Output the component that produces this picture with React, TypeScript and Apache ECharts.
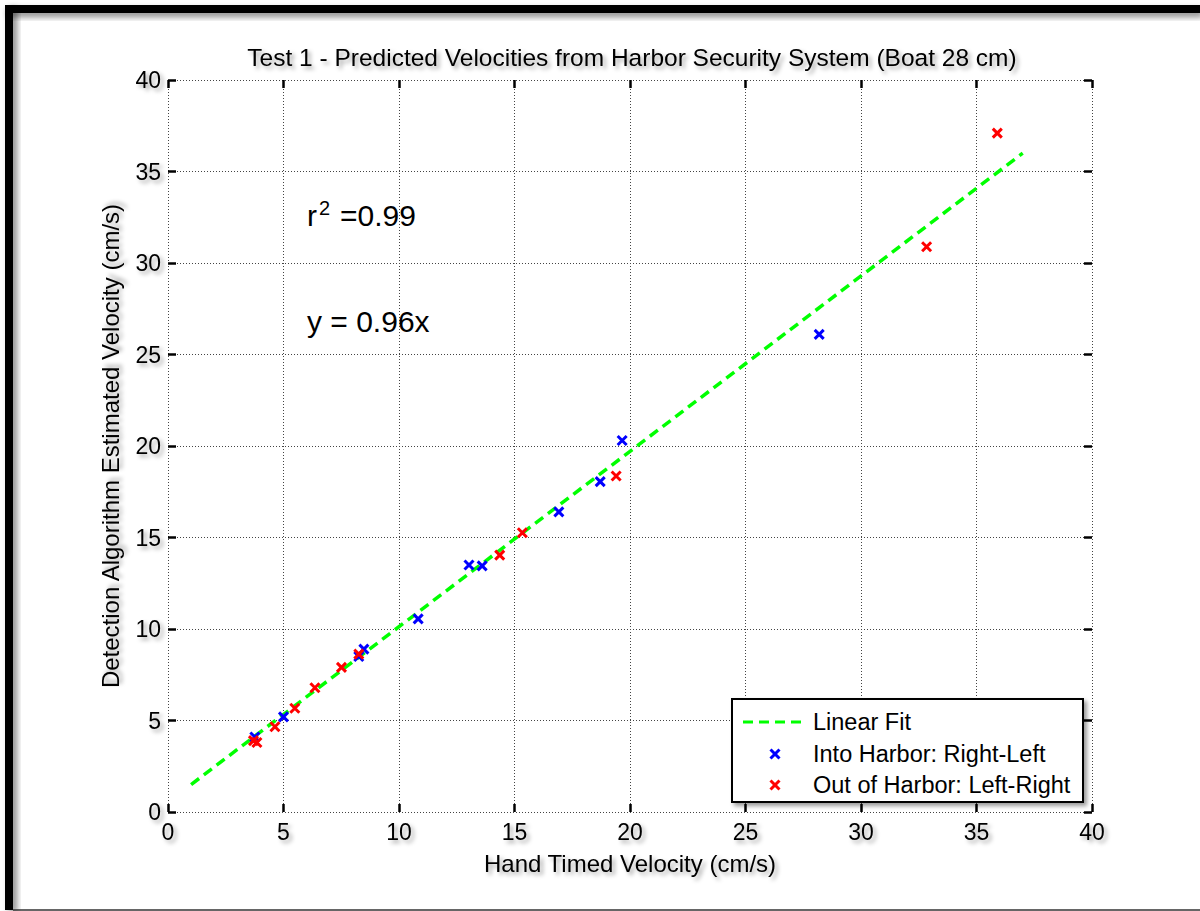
import React, { useEffect, useRef } from "react";
import * as echarts from "echarts";

const FONT = '"Liberation Sans", Arial, sans-serif';

const titleText = "Test 1 - Predicted Velocities from Harbor Security System (Boat 28 cm)";
const xAxisName = "Hand Timed Velocity (cm/s)";
const yAxisName = "Detection Algorithm Estimated Velocity (cm/s)";
const legendNames = ["Linear Fit", "Into Harbor: Right-Left", "Out of Harbor: Left-Right"];

const intoHarbor: number[][] = [
  [3.76, 4.1], [5.0, 5.2], [8.26, 8.5], [8.48, 8.9], [10.83, 10.55], [13.03, 13.5],
  [13.6, 13.45], [16.92, 16.4], [18.71, 18.05], [19.66, 20.3], [28.19, 26.1],
];
const outOfHarbor: number[][] = [
  [3.7, 3.9], [3.85, 3.8], [4.63, 4.66], [5.49, 5.67], [6.36, 6.79], [7.51, 7.9],
  [8.26, 8.63], [14.36, 14.04], [15.34, 15.26], [19.4, 18.36], [32.84, 30.89], [35.9, 37.1],
];
const fitLine: number[][] = [[1, 1.5], [37, 36]];

const axisMin = 0;
const axisMax = 40;
const axisStep = 5;

const GREEN = "#00ff00";
const BLUE = "#0000ff";
const RED = "#ff0000";
const XMARK = "path://M0,0L10,10M0,10L10,0";

const shadowText = {
  textShadowColor: "rgba(0,0,0,0.35)",
  textShadowBlur: 4,
  textShadowOffsetX: 3,
  textShadowOffsetY: 3,
};

function xMarker(cx: number, cy: number, color: string, z: number) {
  const h = 4.5;
  return [
    { type: "line", z, shape: { x1: cx - h, y1: cy - h, x2: cx + h, y2: cy + h }, style: { stroke: color, lineWidth: 3 } },
    { type: "line", z, shape: { x1: cx - h, y1: cy + h, x2: cx + h, y2: cy - h }, style: { stroke: color, lineWidth: 3 } },
  ];
}

export default function App() {
  const ref = useRef<HTMLDivElement>(null);
  useEffect(() => {
    if (!ref.current) return;
    const chart = echarts.init(ref.current, null, { renderer: "svg" });
    const axisLineStyle = {
      color: "#000",
      width: 3,
      shadowColor: "rgba(0,0,0,0.35)",
      shadowBlur: 4,
      shadowOffsetX: 3,
      shadowOffsetY: 3,
    };
    const labelStyle = { color: "#000", fontSize: 23, fontFamily: FONT, ...shadowText };
    const splitLine = { show: true, lineStyle: { color: "#444", width: 1, type: [1, 2] as any } };
    const tick = { show: true, inside: true, length: 8, lineStyle: { color: "#000", width: 2.5 } };
    const option: any = {
      animation: false,
      backgroundColor: "#fff",
      title: {
        text: titleText,
        left: 627,
        top: 40,
        textAlign: "center",
        textStyle: { color: "#000", fontSize: 24.5, fontWeight: "normal", fontFamily: FONT, ...shadowText },
      },
      grid: { left: 168, top: 80, width: 924, height: 732 },
      xAxis: [
        {
          type: "value",
          min: axisMin,
          max: axisMax,
          interval: axisStep,
          position: "bottom",
          name: xAxisName,
          nameLocation: "middle",
          nameGap: 39,
          nameTextStyle: { color: "#000", fontSize: 24, fontFamily: FONT, ...shadowText },
          axisLine: { show: true, onZero: false, lineStyle: axisLineStyle },
          axisTick: tick,
          axisLabel: { ...labelStyle, margin: 8 },
          splitLine,
        },
        {
          type: "value",
          min: axisMin,
          max: axisMax,
          interval: axisStep,
          position: "top",
          axisLine: { show: true, onZero: false, lineStyle: axisLineStyle },
          axisTick: tick,
          axisLabel: { show: false },
          splitLine: { show: false },
        },
      ],
      yAxis: [
        {
          type: "value",
          min: axisMin,
          max: axisMax,
          interval: axisStep,
          position: "left",
          name: yAxisName,
          nameLocation: "middle",
          nameGap: 46,
          nameRotate: 90,
          nameTextStyle: { color: "#000", fontSize: 24, fontFamily: FONT, ...shadowText },
          axisLine: { show: true, onZero: false, lineStyle: axisLineStyle },
          axisTick: tick,
          axisLabel: { ...labelStyle, margin: 7 },
          splitLine,
        },
        {
          type: "value",
          min: axisMin,
          max: axisMax,
          interval: axisStep,
          position: "right",
          axisLine: { show: true, onZero: false, lineStyle: axisLineStyle },
          axisTick: tick,
          axisLabel: { show: false },
          splitLine: { show: false },
        },
      ],
      series: [
        {
          name: legendNames[0],
          type: "line",
          data: fitLine,
          symbol: "none",
          lineStyle: { color: GREEN, width: 3.5, type: [10, 6] },
          z: 2,
        },
        {
          name: legendNames[1],
          type: "scatter",
          data: intoHarbor,
          symbol: XMARK,
          symbolSize: 9,
          itemStyle: { color: BLUE, borderColor: BLUE, borderWidth: 3, opacity: 1 },
          z: 3,
        },
        {
          name: legendNames[2],
          type: "scatter",
          data: outOfHarbor,
          symbol: XMARK,
          symbolSize: 9,
          itemStyle: { color: RED, borderColor: RED, borderWidth: 3, opacity: 1 },
          z: 4,
        },
      ],
      graphic: [
        {
          type: "rect",
          shape: { x: 5, y: 5, width: 1195, height: 8 },
          style: { fill: "#000", shadowColor: "rgba(0,0,0,0.45)", shadowBlur: 6, shadowOffsetX: 3, shadowOffsetY: 4 },
          z: 100,
        },
        {
          type: "rect",
          shape: { x: 5, y: 5, width: 8, height: 905 },
          style: { fill: "#000", shadowColor: "rgba(0,0,0,0.45)", shadowBlur: 6, shadowOffsetX: 4, shadowOffsetY: 3 },
          z: 100,
        },
        {
          type: "line",
          shape: { x1: 13, y1: 910, x2: 1200, y2: 910 },
          style: { stroke: "#333", lineWidth: 1.5 },
          z: 100,
        },
        {
          type: "text",
          style: { text: "r", x: 307, y: 215, fontSize: 30, fontFamily: FONT, fill: "#000", verticalAlign: "middle", textAlign: "left" },
          z: 50,
        },
        {
          type: "text",
          style: { text: "2", x: 319, y: 208, fontSize: 20, fontFamily: FONT, fill: "#000", verticalAlign: "middle", textAlign: "left" },
          z: 50,
        },
        {
          type: "text",
          style: { text: "=0.99", x: 340, y: 215, fontSize: 30, fontFamily: FONT, fill: "#000", verticalAlign: "middle", textAlign: "left" },
          z: 50,
        },
        {
          type: "text",
          style: { text: "y = 0.96x", x: 307, y: 321, fontSize: 30, fontFamily: FONT, fill: "#000", verticalAlign: "middle", textAlign: "left" },
          z: 50,
        },
        {
          type: "rect",
          shape: { x: 732, y: 699, width: 351, height: 103 },
          style: { fill: "#fff", stroke: "#000", lineWidth: 2, shadowColor: "rgba(0,0,0,0.4)", shadowBlur: 4, shadowOffsetX: 3, shadowOffsetY: 3 },
          z: 60,
        },
        {
          type: "line",
          shape: { x1: 743, y1: 722, x2: 803, y2: 722 },
          style: { stroke: GREEN, lineWidth: 3, lineDash: [10, 6] },
          z: 61,
        },
        ...xMarker(775, 754, BLUE, 61),
        ...xMarker(775, 785, RED, 61),
        {
          type: "text",
          style: { text: legendNames[0], x: 813, y: 722, fontSize: 23.5, fontFamily: FONT, fill: "#000", verticalAlign: "middle" },
          z: 61,
        },
        {
          type: "text",
          style: { text: legendNames[1], x: 813, y: 754, fontSize: 23.5, fontFamily: FONT, fill: "#000", verticalAlign: "middle" },
          z: 61,
        },
        {
          type: "text",
          style: { text: legendNames[2], x: 813, y: 785, fontSize: 23.5, fontFamily: FONT, fill: "#000", verticalAlign: "middle" },
          z: 61,
        },
      ],
    };
    chart.setOption(option);
    return () => chart.dispose();
  }, []);
  return (
    <div
      ref={ref}
      style={{ position: "fixed", left: 0, top: 0, width: 1200, height: 911, background: "#fff" }}
    />
  );
}
